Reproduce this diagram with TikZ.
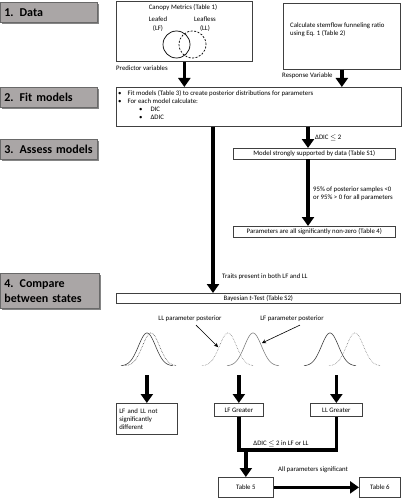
\documentclass[tikz,border=0pt]{standalone}
\usepackage{fontspec}
\setmainfont{Carlito}
\usetikzlibrary{arrows.meta,shadows}

\definecolor{stagefill}{RGB}{170,166,166}
\definecolor{stageline}{RGB}{105,105,105}

\tikzset{
    stage/.style={draw=stageline, line width=0.8pt, fill=stagefill, anchor=north west,
        font=\fontsize{12}{14.5}\selectfont\bfseries, align=left, text width=91pt,
        inner xsep=4pt, inner ysep=0pt, minimum height=20pt,
        drop shadow={shadow xshift=1.2pt, shadow yshift=-1.2pt, fill=black!60, opacity=0.8}},
    box/.style={draw=black!75, line width=0.7pt, fill=white, anchor=north west,
        inner sep=0pt, font=\fontsize{6.8}{8}\selectfont, align=center},
    txt/.style={inner sep=0pt, font=\fontsize{6.8}{8}\selectfont},
    setcircle/.style={circle, draw=black, line width=0.7pt, minimum size=27pt, inner sep=0pt},
    thickarrow/.style={line width=3.5pt, -{Triangle[width=12pt,length=9pt]}},
    thickline/.style={line width=3.5pt, line join=miter},
    pointer/.style={line width=0.6pt, -{Stealth[width=4pt,length=4pt]}},
    curve/.style={line width=0.6pt}
}

\begin{document}
\begin{tikzpicture}[x=1pt, y=-1pt]
    \useasboundingbox (0,0) rectangle (403,500);

    % stage labels
    \node[stage, text width=89pt] (sdata)    at (0,2)   {1. Data};
    \node[stage, text width=89pt] (sfit)     at (0,87)  {2. Fit models};
    \node[stage, text width=89pt] (sassess)  at (0,139) {3. Assess models};
    \node[stage, minimum height=35pt] (scompare) at (0,273) {4. Compare\\between states};

    % data
    \node[box, minimum width=136pt, minimum height=60pt] (canopy) at (116,1) {};
    \node[txt] (canopytitle) at (183,8) {Canopy Metrics (Table 1)};
    \node[txt, align=center] (leafed)   at (158,24) {Leafed\\[1pt](LF)};
    \node[txt, align=center] (leafless) at (205,24) {Leafless\\[1pt](LL)};
    \node[setcircle] (lfset) at (176.5,44.5) {};
    \node[setcircle, dash pattern=on 2pt off 1.5pt] (llset) at (192.5,44.5) {};
    \node[box, minimum width=117pt, minimum height=66pt] (calc) at (283,3) {};
    \node[txt, anchor=west, align=left] (calctext) at (290,30) {Calculate stemflow funneling ratio\\using Eq. 1 (Table 2)};
    \node[txt, anchor=west] (predictor) at (116,68) {Predictor variables};
    \node[txt, anchor=west] (response)  at (282,76) {Response Variable};

    % fit models
    \node[box, minimum width=285pt, minimum height=39pt] (fit) at (116,87) {};
    \node[txt, anchor=north west, align=left] (fittext) at (118,90) {%
        \textbullet\hspace{6pt}Fit models (Table 3) to create posterior distributions for parameters\\
        \textbullet\hspace{6pt}For each model calculate:\\
        \hspace*{21pt}\textbullet\hspace{8pt}DIC\\
        \hspace*{21pt}\textbullet\hspace{8pt}ΔDIC};
    \draw[thickarrow] (canopy.south) -- (canopy.south |- fit.north);
    \draw[thickarrow] (calc.south) -- (calc.south |- fit.north);

    % assess models
    \coordinate (dicx) at (308,0);
    \coordinate (trx) at (213,0);
    \node[box, minimum width=162pt, minimum height=10.5pt] (model) at (233,148) {Model strongly supported by data (Table S1)};
    \node[box, minimum width=162pt, minimum height=11pt] (params) at (233,226) {Parameters are all significantly non-zero (Table 4)};
    \draw[thickarrow] (fit.south -| dicx) -- (model.north -| dicx);
    \node[txt, anchor=west] (dicle) at (315,138) {ΔDIC $\le$ 2};
    \draw[thickarrow] (model.south -| dicx) -- (params.north -| dicx);
    \node[txt, anchor=west, align=left] (sig) at (313,194) {95\% of posterior samples <0\\or 95\% > 0 for all parameters};

    % compare between states
    \node[box, minimum width=284pt, minimum height=10pt] (bayes) at (116,293) {Bayesian \textit{t}-Test (Table S2)};
    \draw[thickarrow] (fit.south -| trx) -- (bayes.north -| trx);
    \node[txt, anchor=west] (traits) at (222,277) {Traits present in both LF and LL};

    \node[txt] (llpost) at (190,319) {LL parameter posterior};
    \node[txt] (lfpost) at (292,319) {LF parameter posterior};
    \foreach \m/\ls/\c in {147/solid/75, 151/densely dotted/70, 253/solid/50, 228/densely dotted/50, 330/solid/75, 355/densely dotted/50}
        \draw[curve, \ls, draw=black!\c, domain=-26:26, samples=60] plot ({\m+\x}, {366-33*exp(-0.5*(\x/8.5)*(\x/8.5))});
    \coordinate (lltip) at (218,347);
    \coordinate (lftip) at (262,343);
    \draw[pointer] ([xshift=6pt,yshift=-3pt]llpost.south) -- (lltip);
    \draw[pointer] ([xshift=8pt,yshift=-3pt]lfpost.south) -- (lftip);

    \node[box, minimum width=61pt, minimum height=31pt, text width=55pt, align=left, inner xsep=3pt] (nodiff) at (116,403) {LF and LL not\\significantly\\different};
    \node[box, minimum width=49pt, minimum height=13pt] (lfgreat) at (214,403) {LF Greater};
    \node[box, minimum width=52pt, minimum height=13pt] (llgreat) at (310,403) {LL Greater};
    \coordinate (p1) at (nodiff.north |- 0,375);
    \coordinate (p2) at (lfgreat.north |- 0,375);
    \coordinate (p3) at (llgreat.north |- 0,375);
    \draw[thickarrow] (p1) -- (nodiff.north);
    \draw[thickarrow] (p2) -- (lfgreat.north);
    \draw[thickarrow] (p3) -- (llgreat.north);

    \node[box, minimum width=55pt, minimum height=20pt] (table5) at (218,477) {Table 5};
    \node[box, minimum width=41pt, minimum height=20pt] (table6) at (359,477) {Table 6};
    \coordinate (merge) at (0,450);
    \draw[thickline] (lfgreat.south) |- (llgreat.south |- merge) -- (llgreat.south);
    \node[txt] (dicstate) at (281,444) {ΔDIC $\le$ 2 in LF or LL};
    \draw[thickarrow] (table5.north |- merge) -- (table5.north);
    \draw[thickarrow] (table5.east) -- (table6.west);
    \node[txt] (allsig) at (313,470) {All parameters significant};
\end{tikzpicture}
\end{document}
